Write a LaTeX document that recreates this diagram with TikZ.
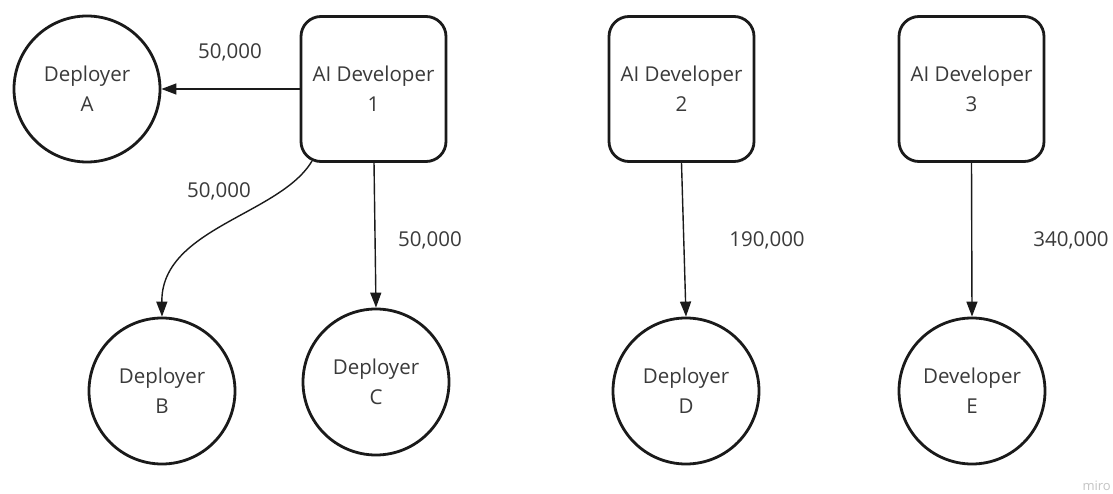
\documentclass[tikz,border=0pt]{standalone}
\usepackage{fontspec}
\setmainfont{Open Sans}
\usetikzlibrary{arrows.meta}
\definecolor{inkline}{HTML}{1A1A1A}
\definecolor{inktext}{HTML}{3A3A3A}
\definecolor{mark}{HTML}{C4C4C4}
\begin{document}
\begin{tikzpicture}[x=1pt,y=-1pt,
  every node/.style={text=inktext, font=\fontsize{20.5}{30}\selectfont, align=center},
  party/.style={draw=inkline, line width=2.8pt, circle, minimum size=146pt, inner sep=0pt},
  devbox/.style={draw=inkline, line width=2.8pt, rectangle, rounded corners=20pt,
                 minimum width=145pt, minimum height=145pt, inner sep=0pt},
  flow/.style={draw=inkline, line width=1.4pt, -{Triangle[length=15pt,width=11pt]}},
  amount/.style={inner sep=0pt}]
  \clip (0,0) rectangle (1113,494);
  \fill[white] (0,0) rectangle (1113,494);

  % developers
  \node[devbox] (dev1) at (373.5,89) {AI Developer\\1};
  \node[devbox] (dev2) at (681.5,89) {AI Developer\\2};
  \node[devbox] (dev3) at (971.5,89) {AI Developer\\3};

  % receiving parties
  \node[party] (depA) at (87,89)   {Deployer\\A};
  \node[party] (depB) at (162,391) {Deployer\\B};
  \node[party] (depC) at (376,382) {Deployer\\C};
  \node[party] (depD) at (686,391) {Deployer\\D};
  \node[party] (devE) at (972,391) {Developer\\E};

  % payments
  \coordinate (c1) at (312,161);
  \draw[flow] (dev1.west) -- (depA.east);
  \draw[flow] (c1) .. controls (280,215) and (161,228) .. (depB.north);
  \draw[flow] (374,162) -- (depC.north);
  \draw[flow] (dev2.south) -- (depD.north);
  \draw[flow] (dev3.south) -- (devE.north);

  \node[amount] (l1) at (230,52)  {50,000};
  \node[amount] (l2) at (219,191) {50,000};
  \node[amount] (l3) at (430,240) {50,000};
  \node[amount] (l4) at (767,240) {190,000};
  \node[amount] (l5) at (1071,240) {340,000};

  % watermark
  \node[anchor=east, text=mark, font=\fontsize{13}{15}\selectfont, inner sep=0pt] (wm) at (1111,486) {miro};
\end{tikzpicture}
\end{document}
